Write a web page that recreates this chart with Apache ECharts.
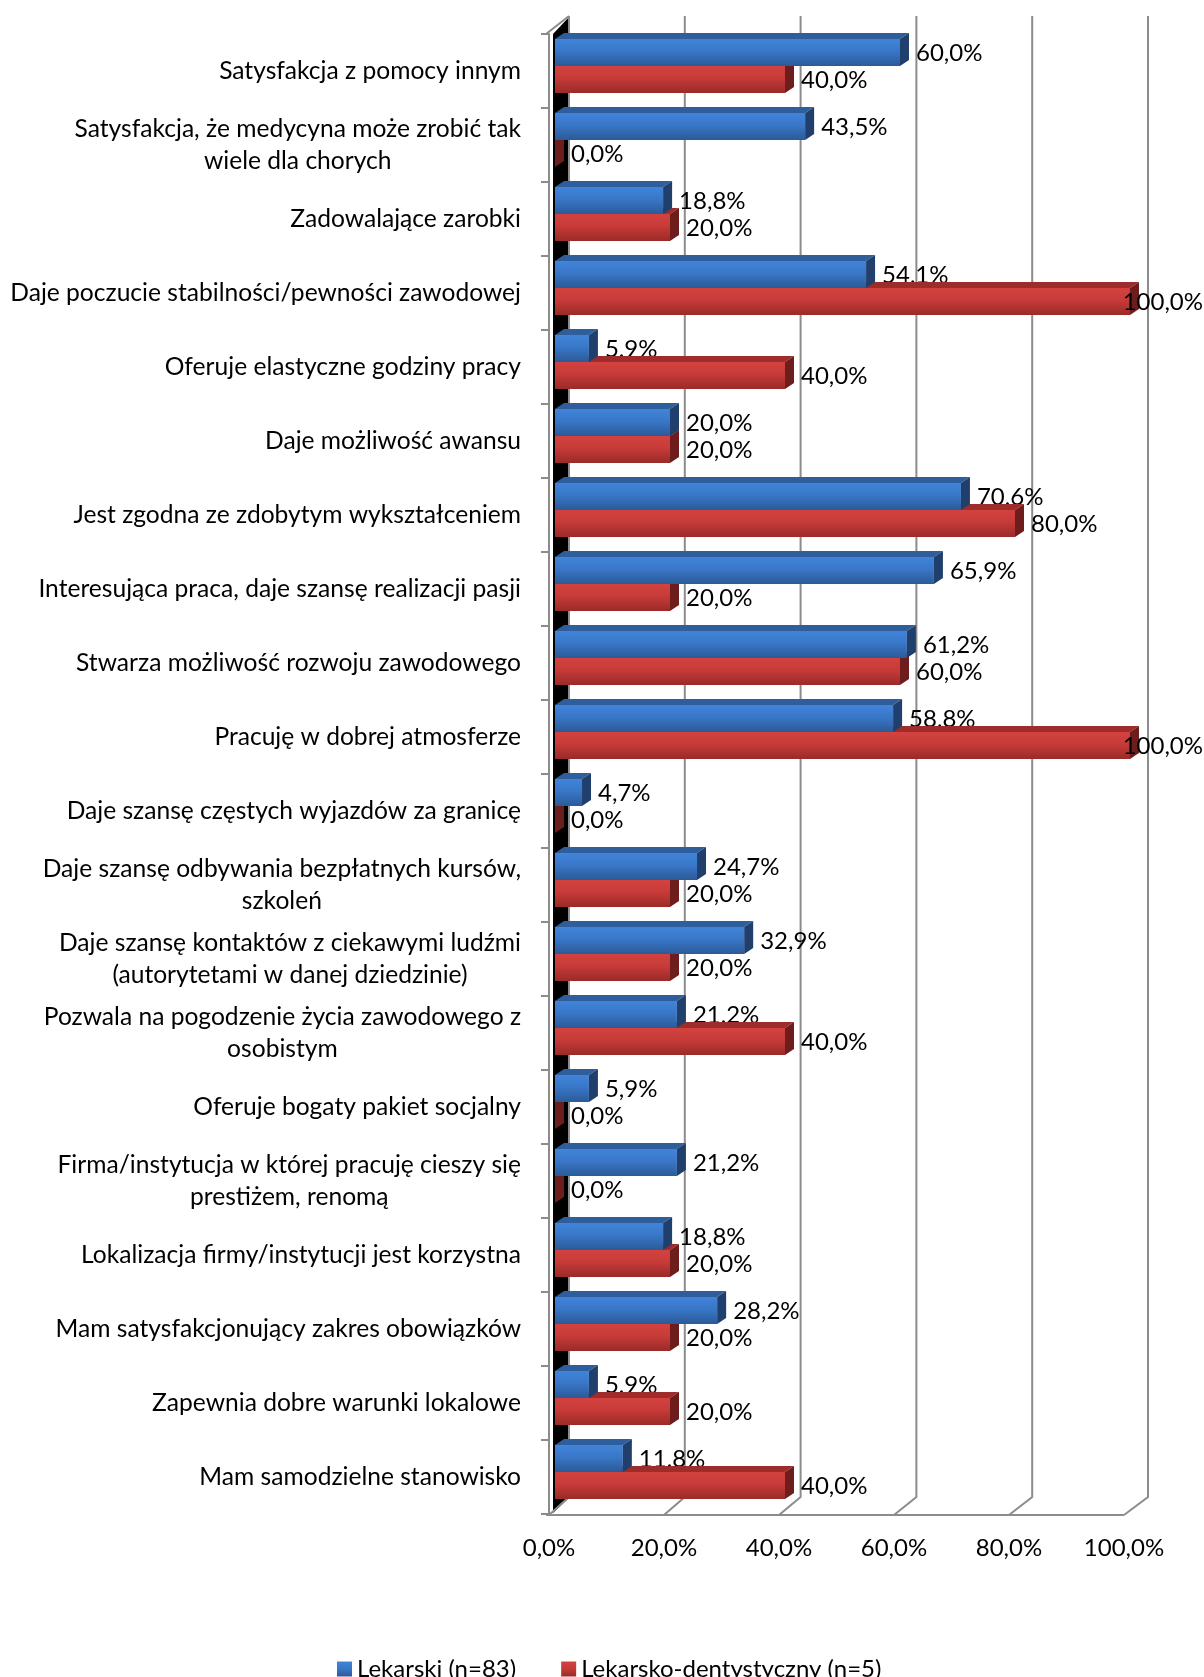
<!DOCTYPE html>
<html>
<head>
<meta charset="utf-8">
<script src="https://cdn.jsdelivr.net/npm/echarts@6/dist/echarts.min.js"></script>
<style>
  html, body { margin: 0; padding: 0; background: #fff; }
  #chart { width: 1204px; height: 1677px; }
</style>
</head>
<body>
<div id="chart"></div>
<script>
// Data
const categories = [
  'Satysfakcja z pomocy innym',
  'Satysfakcja, że medycyna może zrobić tak\nwiele dla chorych',
  'Zadowalające zarobki',
  'Daje poczucie stabilności/pewności zawodowej',
  'Oferuje elastyczne godziny pracy',
  'Daje możliwość awansu',
  'Jest zgodna ze zdobytym wykształceniem',
  'Interesująca praca, daje szansę realizacji pasji',
  'Stwarza możliwość rozwoju zawodowego',
  'Pracuję w dobrej atmosferze',
  'Daje szansę częstych wyjazdów za granicę',
  'Daje szansę odbywania bezpłatnych kursów,\nszkoleń',
  'Daje szansę kontaktów z ciekawymi ludźmi\n(autorytetami w danej dziedzinie)',
  'Pozwala na pogodzenie życia zawodowego z\nosobistym',
  'Oferuje bogaty pakiet socjalny',
  'Firma/instytucja w której pracuję cieszy się\nprestiżem, renomą',
  'Lokalizacja firmy/instytucji jest korzystna',
  'Mam satysfakcjonujący zakres obowiązków',
  'Zapewnia dobre warunki lokalowe',
  'Mam samodzielne stanowisko'
]
const lekarski = [60.0, 43.5, 18.8, 54.1, 5.9, 20.0, 70.6, 65.9, 61.2, 58.8, 4.7, 24.7, 32.9, 21.2, 5.9, 21.2, 18.8, 28.2, 5.9, 11.8]
const dentystyczny = [40.0, 0.0, 20.0, 100.0, 40.0, 20.0, 80.0, 20.0, 60.0, 100.0, 0.0, 20.0, 20.0, 40.0, 0.0, 0.0, 20.0, 20.0, 20.0, 40.0]
const xTicks = [0, 20, 40, 60, 80, 100]
const seriesNames = ['Lekarski (n=83)', 'Lekarsko-dentystyczny (n=5)']

const FONT = 'Lato'
const FS = 24
const CAT_FS = 24.6
const GRID_COLOR = '#8c8c8c'

// 3D look
const SHIFT_X = 6, SHIFT_Y = -5      // bar plane vs front plane
const BAR_DX = 9, BAR_DY = -6        // bar depth
const WALL_DY = -18                  // back wall vs front plane

const pct = v => v.toFixed(1).replace('.', ',') + '%'

const palette = [
  {
    front: new echarts.graphic.LinearGradient(0, 0, 0, 1, [
      { offset: 0, color: '#4184d8' }, { offset: 0.45, color: '#3977c8' }, { offset: 1, color: '#2b5a97' }
    ]),
    top: '#2e5e9c',
    side: '#213f6c'
  },
  {
    front: new echarts.graphic.LinearGradient(0, 0, 0, 1, [
      { offset: 0, color: '#d4423f' }, { offset: 0.45, color: '#c63b38' }, { offset: 1, color: '#9a2a28' }
    ]),
    top: '#9d2c2a',
    side: '#6c1d1c'
  }
]

function barGeom (api, slot) {
  const v = api.value(0)
  const i = api.value(1)
  const base = api.coord([0, i])
  const end = api.coord([v, i])
  const band = api.size([0, 1])[1]
  const h = band * 0.365
  const cy = base[1] + SHIFT_Y
  return { x0: base[0] + SHIFT_X, x1: end[0] + SHIFT_X, y0: slot === 0 ? cy - h : cy, h }
}

function makeBars (slot) {
  return function (params, api) {
    const g = barGeom(api, slot)
    const c = palette[slot]
    const { x0, x1, y0, h } = g
    return {
      type: 'group',
      children: [
        { type: 'polygon', shape: { points: [[x0, y0], [x1, y0], [x1 + BAR_DX, y0 + BAR_DY], [x0 + BAR_DX, y0 + BAR_DY]] }, style: { fill: c.top } },
        { type: 'rect', shape: { x: x0, y: y0, width: Math.max(x1 - x0, 0), height: h }, style: { fill: c.front } },
        { type: 'polygon', shape: { points: [[x1, y0], [x1 + BAR_DX, y0 + BAR_DY], [x1 + BAR_DX, y0 + h + BAR_DY], [x1, y0 + h]] }, style: { fill: c.side } }
      ]
    }
  }
}

function makeLabels (slot) {
  return function (params, api) {
    const g = barGeom(api, slot)
    let x = g.x1 + BAR_DX + 7
    let align = 'left'
    if (x + 78 > api.getWidth()) { x = api.getWidth() - 1; align = 'right' }
    return {
      type: 'text',
      x: x,
      y: g.y0 + g.h / 2 + 1,
      style: {
        text: pct(api.value(0)),
        fill: '#000',
        font: FS + 'px ' + FONT,
        align: align,
        verticalAlign: 'middle'
      }
    }
  }
}

// walls, floor and back gridlines
function renderWalls (params, api) {
  const cs = params.coordSys
  const v = api.value(0)
  const fx = api.coord([v, 0])[0]
  const by = cs.y + cs.height + 1
  const bdx = 20 + 4 * v / 100
  const line = { stroke: GRID_COLOR, lineWidth: 2, fill: null }
  const children = [
    { type: 'polyline', shape: { points: [[fx, by], [fx + bdx, by + WALL_DY], [fx + bdx, cs.y + WALL_DY]] }, style: line }
  ]
  if (v === 0) {
    children.unshift({
      type: 'polygon',
      shape: { points: [[cs.x + 4, cs.y], [cs.x + 21, cs.y + WALL_DY], [cs.x + 21, by + WALL_DY], [cs.x + 4, by - 2]] },
      style: { fill: '#000' }
    })
    children.push(
      { type: 'line', shape: { x1: cs.x - 3, y1: by, x2: cs.x + cs.width, y2: by }, style: line },
      { type: 'line', shape: { x1: cs.x - 3, y1: cs.y, x2: cs.x + 20, y2: cs.y + WALL_DY }, style: line }
    )
  }
  return { type: 'group', children }
}

const chart = echarts.init(document.getElementById('chart'))

chart.setOption({
  animation: false,
  textStyle: { fontFamily: FONT },
  grid: { left: 549, top: 34, width: 575, height: 1480, containLabel: false, outerBoundsMode: 'none' },
  legend: {
    data: seriesNames,
    left: 332,
    top: 1652,
    icon: 'rect',
    itemWidth: 15,
    itemHeight: 15,
    itemGap: 45,
    textStyle: { fontFamily: FONT, fontSize: FS, color: '#000' }
  },
  xAxis: {
    type: 'value',
    min: 0,
    max: 100,
    interval: 20,
    axisLine: { show: false },
    axisTick: { show: false },
    splitLine: { show: false },
    axisLabel: { margin: 22, fontSize: FS, color: '#000', fontFamily: FONT, formatter: v => pct(v) }
  },
  yAxis: {
    type: 'category',
    inverse: true,
    data: categories,
    offset: 3,
    axisLine: { show: true, lineStyle: { color: GRID_COLOR, width: 2 } },
    axisTick: { show: true, length: 8, lineStyle: { color: GRID_COLOR, width: 2 } },
    axisLabel: {
      interval: 0,
      margin: 25,
      formatter: s => s.split('\n').map(p => '{c|' + p + '}').join('\n'),
      rich: { c: { align: 'center', fontSize: CAT_FS, lineHeight: 32, fontFamily: FONT, color: '#000' } }
    }
  },
  series: [
    {
      type: 'custom', name: 'walls', z: 1, silent: true,
      renderItem: renderWalls,
      data: xTicks.map(v => [v, 0])
    },
    {
      type: 'custom', name: 'lab0', z: 2, silent: true,
      renderItem: makeLabels(0),
      data: lekarski.map((v, i) => [v, i])
    },
    {
      type: 'custom', name: seriesNames[1], z: 3,
      itemStyle: { color: palette[1].front },
      renderItem: makeBars(1),
      data: dentystyczny.map((v, i) => [v, i])
    },
    {
      type: 'custom', name: seriesNames[0], z: 4,
      itemStyle: { color: palette[0].front },
      renderItem: makeBars(0),
      data: lekarski.map((v, i) => [v, i])
    },
    {
      type: 'custom', name: 'lab1', z: 5, silent: true,
      renderItem: makeLabels(1),
      data: dentystyczny.map((v, i) => [v, i])
    }
  ]
})
</script>
</body>
</html>
